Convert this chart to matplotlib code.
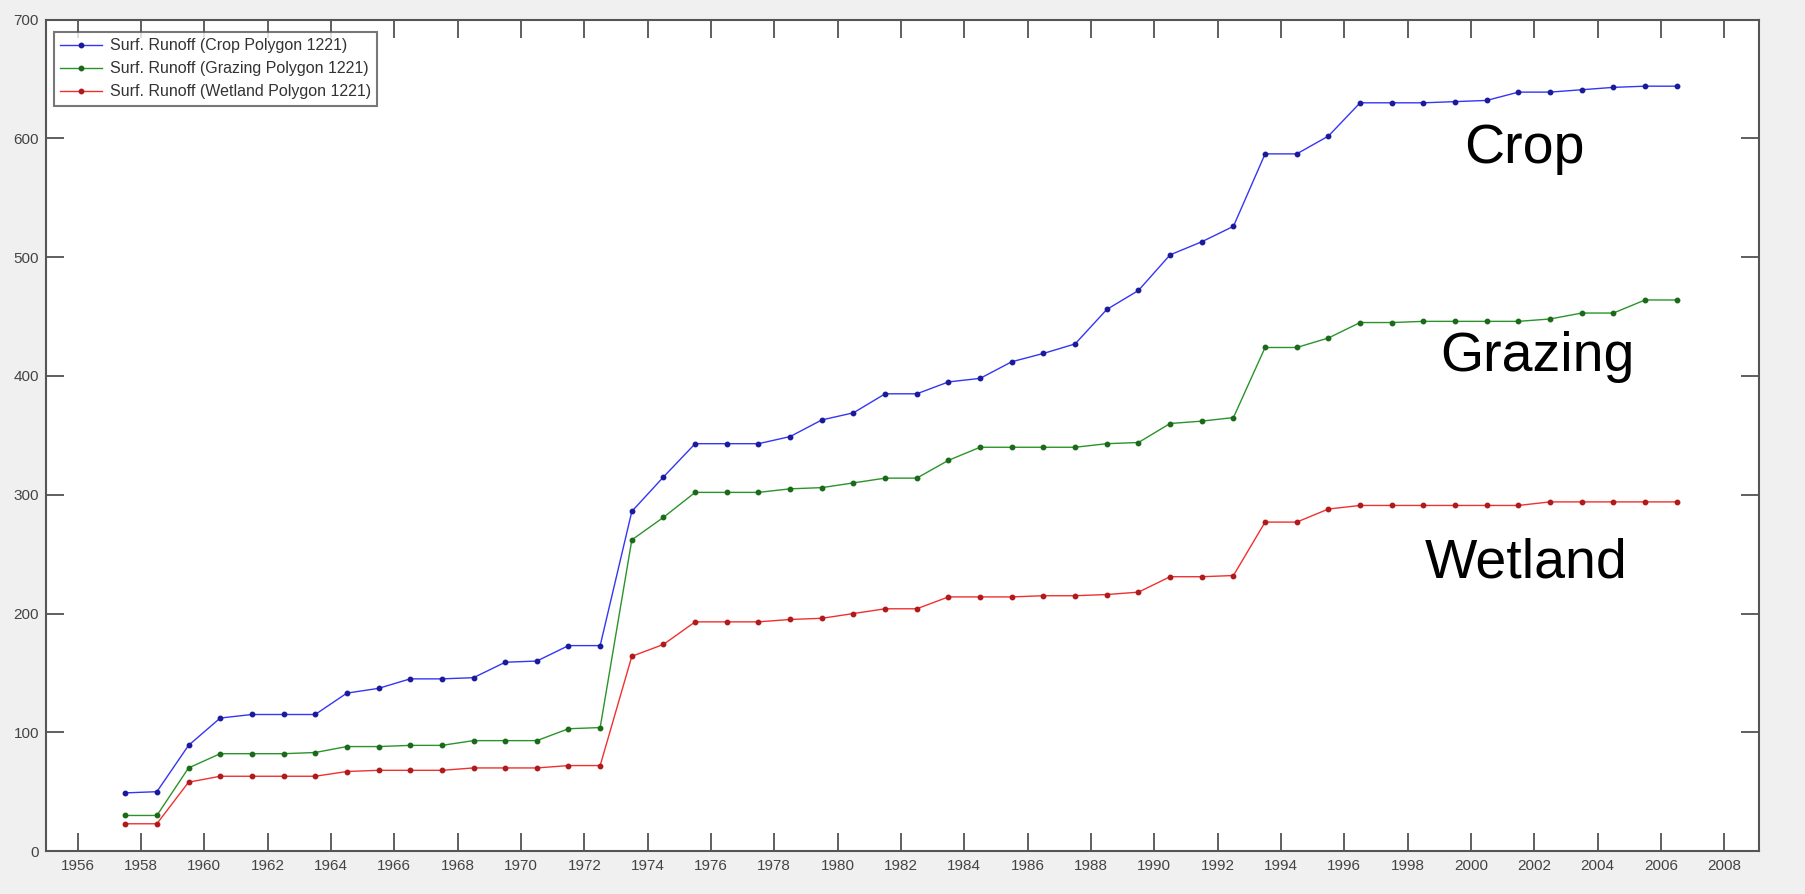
import matplotlib
matplotlib.use("Agg")
import matplotlib.pyplot as plt

years = [1957.5, 1958.5, 1959.5, 1960.5, 1961.5, 1962.5, 1963.5, 1964.5, 1965.5, 1966.5,
         1967.5, 1968.5, 1969.5, 1970.5, 1971.5, 1972.5, 1973.5, 1974.5, 1975.5, 1976.5,
         1977.5, 1978.5, 1979.5, 1980.5, 1981.5, 1982.5, 1983.5, 1984.5, 1985.5, 1986.5,
         1987.5, 1988.5, 1989.5, 1990.5, 1991.5, 1992.5, 1993.5, 1994.5, 1995.5, 1996.5,
         1997.5, 1998.5, 1999.5, 2000.5, 2001.5, 2002.5, 2003.5, 2004.5, 2005.5, 2006.5]

crop = [49, 50, 89, 112, 115, 115, 115, 133, 137, 145,
        145, 146, 159, 160, 173, 173, 286, 315, 343, 343,
        343, 349, 363, 369, 385, 385, 395, 398, 412, 419,
        427, 456, 472, 502, 513, 526, 587, 587, 602, 630,
        630, 630, 631, 632, 639, 639, 641, 643, 644, 644]

grazing = [30, 30, 70, 82, 82, 82, 83, 88, 88, 89,
           89, 93, 93, 93, 103, 104, 262, 281, 302, 302,
           302, 305, 306, 310, 314, 314, 329, 340, 340, 340,
           340, 343, 344, 360, 362, 365, 424, 424, 432, 445,
           445, 446, 446, 446, 446, 448, 453, 453, 464, 464]

wetland = [23, 23, 58, 63, 63, 63, 63, 67, 68, 68,
           68, 70, 70, 70, 72, 72, 164, 174, 193, 193,
           193, 195, 196, 200, 204, 204, 214, 214, 214, 215,
           215, 216, 218, 231, 231, 232, 277, 277, 288, 291,
           291, 291, 291, 291, 291, 294, 294, 294, 294, 294]

labels = ["Surf. Runoff (Crop Polygon 1221)",
          "Surf. Runoff (Grazing Polygon 1221)",
          "Surf. Runoff (Wetland Polygon 1221)"]
annotations = ["Crop", "Grazing", "Wetland"]
xticks = list(range(1956, 2009, 2))
yticks = list(range(0, 701, 100))

plt.rcParams['font.family'] = ['Liberation Sans', 'DejaVu Sans']

fig = plt.figure(figsize=(18.06, 8.94), dpi=100, facecolor='#f0f0f0')
ax = fig.add_axes([0.0255, 0.048, 0.9485, 0.930])
ax.set_facecolor('white')

colors = ['#3535f5', '#2a942a', '#f03030']
mcolors = ['#1a1a9a', '#1a6a1a', '#b01a1a']
for ys, lab, c, mc in zip([crop, grazing, wetland], labels, colors, mcolors):
    ax.plot(years, ys, '-', color=c, lw=1.0, marker='o', ms=3.2,
            markerfacecolor=mc, markeredgecolor=mc, label=lab)

ax.set_xlim(1955, 2009.1)
ax.set_ylim(0, 700)
ax.set_xticks(xticks)
ax.set_yticks(yticks)
ax.tick_params(axis='both', direction='in', length=13, width=1.2, color='#444444',
               labelsize=11, labelcolor='#444444', top=True, right=True)
ax.tick_params(axis='x', pad=6)
ax.tick_params(axis='y', pad=5)
for s in ax.spines.values():
    s.set_color('#555555')
    s.set_linewidth(1.5)

ax.text(2001.7, 591, annotations[0], fontsize=40, ha='center', va='center')
ax.text(2002.1, 416, annotations[1], fontsize=40, ha='center', va='center')
ax.text(2001.75, 242, annotations[2], fontsize=40, ha='center', va='center')

leg = ax.legend(loc='upper left', fontsize=11.5, frameon=True, fancybox=False,
                borderpad=0.4, labelspacing=0.5, handlelength=2.6, handletextpad=0.5,
                bbox_to_anchor=(0.0, 0.995))
leg.get_frame().set_edgecolor('#555555')
leg.get_frame().set_linewidth(1.5)
for t in leg.get_texts():
    t.set_color('#333333')

fig.savefig('out.png', dpi=100, facecolor=fig.get_facecolor())
